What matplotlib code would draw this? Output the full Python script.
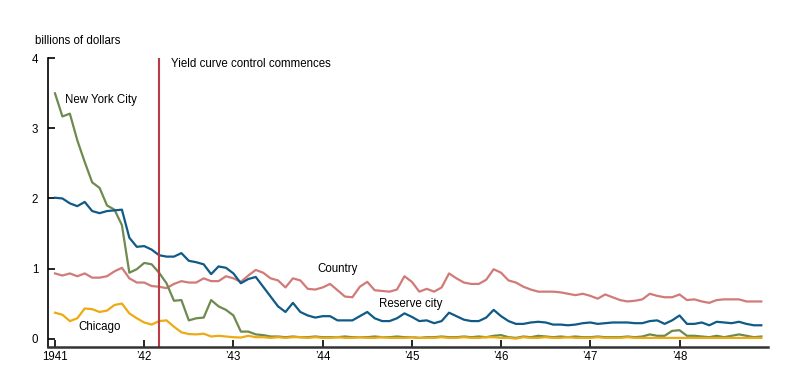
import numpy as np
import matplotlib
matplotlib.use("Agg")
import matplotlib.pyplot as plt

plt.rcParams['font.family'] = ['Liberation Sans', 'DejaVu Sans']

# monthly, Jan 1941 - Dec 1948 (billions of dollars)
new_york = [3.50, 3.17, 3.21, 2.83, 2.52, 2.23, 2.15, 1.90, 1.84, 1.62, 0.94, 0.99,
            1.08, 1.06, 0.94, 0.79, 0.54, 0.55, 0.26, 0.29, 0.30, 0.55, 0.46, 0.41,
            0.33, 0.10, 0.10, 0.06, 0.05, 0.03, 0.03, 0.02, 0.03, 0.02, 0.02, 0.03,
            0.02, 0.02, 0.02, 0.03, 0.02, 0.02, 0.02, 0.03, 0.02, 0.02, 0.03, 0.02,
            0.02, 0.01, 0.02, 0.02, 0.03, 0.02, 0.02, 0.03, 0.02, 0.03, 0.02, 0.04,
            0.05, 0.02, 0.01, 0.03, 0.02, 0.04, 0.03, 0.02, 0.03, 0.02, 0.03, 0.02,
            0.02, 0.03, 0.02, 0.02, 0.02, 0.03, 0.02, 0.03, 0.06, 0.04, 0.04, 0.11,
            0.12, 0.04, 0.04, 0.03, 0.02, 0.04, 0.02, 0.04, 0.06, 0.04, 0.02, 0.03]
reserve_city = [2.01, 2.00, 1.93, 1.89, 1.95, 1.82, 1.79, 1.82, 1.83, 1.84, 1.44, 1.31,
                1.32, 1.27, 1.19, 1.17, 1.17, 1.22, 1.11, 1.09, 1.06, 0.92, 1.03, 1.01,
                0.93, 0.79, 0.85, 0.88, 0.74, 0.60, 0.46, 0.38, 0.51, 0.38, 0.33, 0.30,
                0.32, 0.32, 0.26, 0.26, 0.26, 0.32, 0.38, 0.29, 0.25, 0.25, 0.29, 0.36,
                0.31, 0.25, 0.26, 0.22, 0.25, 0.37, 0.32, 0.27, 0.25, 0.25, 0.30, 0.41,
                0.32, 0.25, 0.21, 0.21, 0.23, 0.24, 0.23, 0.20, 0.20, 0.19, 0.20, 0.22,
                0.23, 0.21, 0.22, 0.23, 0.23, 0.23, 0.22, 0.22, 0.25, 0.26, 0.21, 0.26,
                0.33, 0.21, 0.21, 0.23, 0.19, 0.24, 0.23, 0.22, 0.24, 0.21, 0.19, 0.19]
country = [0.93, 0.90, 0.93, 0.89, 0.93, 0.87, 0.87, 0.89, 0.96, 1.01, 0.86, 0.80,
           0.80, 0.75, 0.74, 0.72, 0.78, 0.82, 0.80, 0.80, 0.86, 0.82, 0.82, 0.89,
           0.86, 0.81, 0.90, 0.98, 0.94, 0.86, 0.83, 0.73, 0.86, 0.83, 0.71, 0.70,
           0.73, 0.78, 0.69, 0.60, 0.59, 0.74, 0.81, 0.69, 0.68, 0.67, 0.70, 0.89,
           0.81, 0.67, 0.71, 0.67, 0.73, 0.93, 0.86, 0.80, 0.78, 0.78, 0.84, 0.99,
           0.94, 0.83, 0.80, 0.74, 0.70, 0.67, 0.67, 0.67, 0.66, 0.64, 0.62, 0.64,
           0.61, 0.57, 0.63, 0.59, 0.55, 0.53, 0.54, 0.56, 0.64, 0.61, 0.59, 0.59,
           0.63, 0.55, 0.56, 0.53, 0.51, 0.55, 0.56, 0.56, 0.56, 0.53, 0.53, 0.53]
chicago = [0.37, 0.34, 0.25, 0.29, 0.43, 0.42, 0.38, 0.40, 0.48, 0.50, 0.36, 0.29,
           0.23, 0.20, 0.25, 0.26, 0.17, 0.09, 0.065, 0.06, 0.07, 0.03, 0.04, 0.03,
           0.02, 0.015, 0.04, 0.02, 0.02, 0.01, 0.02, 0.01, 0.02, 0.02, 0.01, 0.02,
           0.01, 0.01, 0.02, 0.01, 0.01, 0.02, 0.01, 0.01, 0.02, 0.01, 0.01, 0.01,
           0.02, 0.01, 0.01, 0.01, 0.02, 0.01, 0.01, 0.02, 0.01, 0.01, 0.02, 0.02,
           0.01, 0.01, 0.00, 0.02, 0.01, 0.01, 0.02, 0.01, 0.01, 0.02, 0.01, 0.01,
           0.01, 0.02, 0.01, 0.01, 0.01, 0.02, 0.01, 0.01, 0.01, 0.01, 0.01, 0.01,
           0.01, 0.01, 0.01, 0.01, 0.01, 0.01, 0.01, 0.01, 0.01, 0.01, 0.01, 0.01]

tick_labels = ["1941", "\u201942", "\u201943", "\u201944", "\u201945",
               "\u201946", "\u201947", "\u201948"]
ycc_month = 14  # March 1942

months = np.arange(len(new_york))

fig = plt.figure(figsize=(8, 3.91), dpi=100)
ax = fig.add_axes([0.06, 0.1125, 0.9, 0.7384])

ax.plot(months, country, color="#d17b78", lw=1.6)
ax.plot(months, new_york, color="#6e8a4e", lw=1.6)
ax.plot(months, chicago, color="#eeaa12", lw=1.6)
ax.plot(months, reserve_city, color="#0f5a87", lw=1.6)
ax.axvline(ycc_month, color="#b83b45", lw=1.5)

fs = 8.3
ax.text(ycc_month + 1.6, 3.92, "Yield curve control commences", fontsize=fs, va="center")
ax.text(1.4, 3.40, "New York City", fontsize=fs, va="center")
ax.text(3.2, 0.17, "Chicago", fontsize=fs, va="center")
ax.text(35.3, 0.99, "Country", fontsize=fs, va="center")
ax.text(43.6, 0.49, "Reserve city", fontsize=fs, va="center")
fig.text(0.044, 0.895, "billions of dollars", fontsize=fs, va="center")

ax.set_xlim(-0.94, 95.9)
ax.set_ylim(-0.12, 4)
ax.set_xticks(np.arange(0, 96, 12))
ax.set_xticklabels(tick_labels)
ax.set_yticks([0, 1, 2, 3, 4])
ax.tick_params(direction="in", labelsize=fs, length=5, width=1.2)
ax.tick_params(axis="y", pad=7)
ax.tick_params(axis="x", pad=3)
for s in ["top", "right"]:
    ax.spines[s].set_visible(False)
ax.spines["left"].set_linewidth(1.2)
ax.spines["bottom"].set_linewidth(1.8)
ax.spines["bottom"].set_color("#333333")

fig.savefig("out.png", dpi=100)
